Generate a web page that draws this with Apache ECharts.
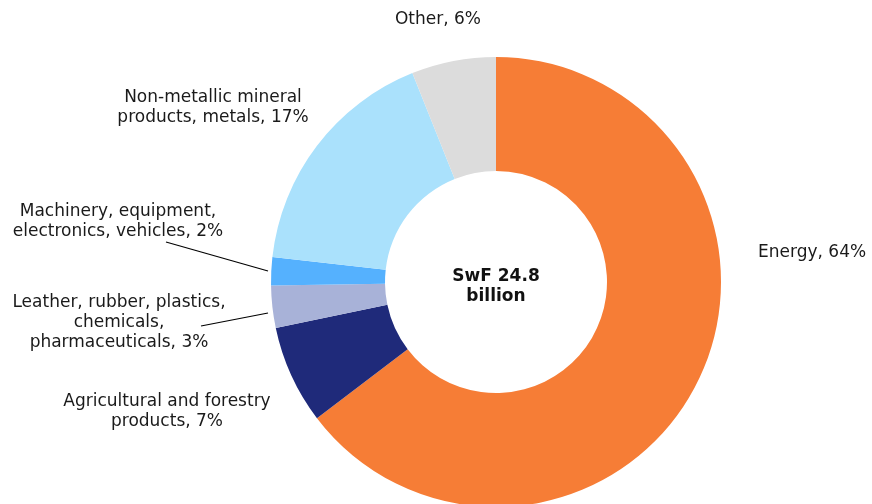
<!DOCTYPE html>
<html><head><meta charset="utf-8">
<script src="https://cdn.jsdelivr.net/npm/echarts@6/dist/echarts.min.js"></script>
<style>html,body{margin:0;padding:0;background:#fff}#c{width:872px;height:504px}</style>
</head><body><div id="c"></div>
<script>
const categories = ['Energy', 'Agricultural and forestry\nproducts', 'Leather, rubber, plastics,\nchemicals,\npharmaceuticals', 'Machinery, equipment,\nelectronics, vehicles', 'Non-metallic mineral\nproducts, metals', 'Other'];
const values = [64, 7, 3, 2, 17, 6];
const colors = ['#F67D36', '#1F2A7A', '#A8B2D8', '#55B1FE', '#AAE1FC', '#DCDCDC'];
const centerText = 'SwF 24.8\nbillion';

// label anchor positions (text centre) per slice
const labelPos = [[758, 253, 'left'], [167, 412, 'center'], [119, 323, 'center'], [118, 222, 'center'], [213, 108, 'center'], [438, 20, 'center']];
const leaderEnds = [null, null, [[268, 313], [201, 326]], [[268, 271], [166, 242]], null, null];

const chart = echarts.init(document.getElementById('c'));
chart.setOption({
  animation: false,
  graphic: [{ type: 'text', x: 496, y: 287, style: { text: centerText, align: 'center', verticalAlign: 'middle',
    fontFamily: 'DejaVu Sans', fontSize: 17, fontWeight: 'bold', fill: '#111', lineHeight: 20 } }],
  series: [{
    type: 'pie', center: [496, 282], radius: [111, 225], startAngle: 90, clockwise: true,
    avoidLabelOverlap: false,
    data: categories.map((n, i) => ({ name: n, value: values[i], itemStyle: { color: colors[i] },
      labelLine: { show: !!leaderEnds[i], lineStyle: { color: '#000', width: 1.2 } } })),
    label: { show: true, formatter: p => p.name + ', ' + p.value + '%', fontFamily: 'DejaVu Sans', fontSize: 17,
      color: '#1a1a1a', lineHeight: 20, align: 'center' },
    labelLine: { length: 10, length2: 10 },
    labelLayout: function (p) {
      const i = p.dataIndex;
      const lp = labelPos[i];
      const w = p.labelRect.width;
      const r = { x: lp[2] === 'left' ? lp[0] + w / 2 : lp[0], y: lp[1], align: 'center', verticalAlign: 'middle' };
      if (leaderEnds[i]) r.labelLinePoints = leaderEnds[i];
      return r;
    }
  }]
});
</script></body></html>
